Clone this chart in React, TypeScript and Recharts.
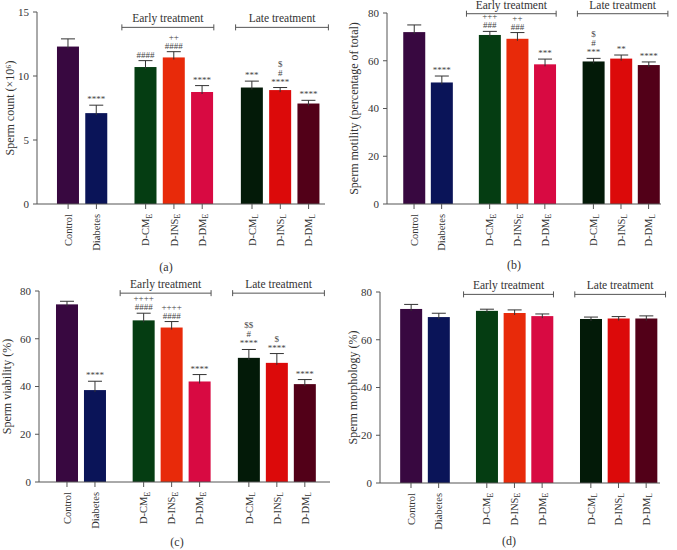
import React from 'react'
import { BarChart, Bar, XAxis, YAxis, Cell, ReferenceLine } from 'recharts'

// groups in plotting order; subscript after "_"
const groups = ['Control', 'Diabetes', 'D-CM_E', 'D-INS_E', 'D-DM_E', 'D-CM_L', 'D-INS_L', 'D-DM_L']
const positions = [0, 1, 2.74, 3.74, 4.74, 6.5, 7.5, 8.5]
const colors = ['#380840', '#0a1458', '#053d12', '#e82a0a', '#d80a42', '#031a08', '#dc0a0a', '#520018']

const countMean = [12.3, 7.1, 10.7, 11.45, 8.75, 9.1, 8.9, 7.85]
const countErr = [0.6, 0.62, 0.5, 0.45, 0.5, 0.5, 0.2, 0.25]
const countMarks = ['', '****', '####', '++|####', '****', '***', '$|#|****', '****']

const motilityMean = [72.0, 50.9, 70.8, 69.2, 58.5, 59.7, 60.9, 58.2]
const motilityErr = [3.0, 2.7, 1.5, 2.6, 2.2, 1.3, 1.5, 1.3]
const motilityMarks = ['', '****', '+++|###', '++|###', '***', '$|#|***', '**', '****']

const viabilityMean = [74.4, 38.5, 67.7, 64.7, 42.1, 52.0, 49.9, 41.0]
const viabilityErr = [1.3, 3.7, 3.0, 2.5, 2.9, 3.5, 3.9, 1.9]
const viabilityMarks = ['', '****', '++++|####', '++++|####', '****', '$$|#|****', '$|****', '****']

const morphologyMean = [72.9, 69.5, 72.1, 71.2, 69.9, 68.7, 68.9, 68.9]
const morphologyErr = [1.9, 1.6, 0.7, 1.3, 0.9, 0.8, 0.8, 1.1]
const morphologyMarks = ['', '', '', '', '', '', '', '']

const brackets = [
   { name: 'Early treatment', from: 1.9, to: 5.15 },
   { name: 'Late treatment', from: 5.92, to: 9.2 },
]

const FONT = '"Liberation Serif", "DejaVu Serif", serif'
const AXIS = '#555'

const panels = [
   {
      mean: countMean, err: countErr, marks: countMarks, yMax: 15, yTicks: [0, 5, 10, 15],
      label: 'Sperm count (×10⁶)', left: 0, top: 0, yw: 37, mt: 12, xh: 71, mr: 13,
      domain: [-1.1, 9.08], bracketY: 13.8, labelOffset: 10, caption: '(a)', capX: 166, capY: 267,
   },
   {
      mean: motilityMean, err: motilityErr, marks: motilityMarks, yMax: 80, yTicks: [0, 20, 40, 60, 80],
      label: 'Sperm motility (percentage of total)', left: 338, top: 0, yw: 49, mt: 13, xh: 71, mr: 15,
      domain: [-0.98, 8.95], bracketY: 79.7, labelOffset: 16, caption: '(b)', capX: 514, capY: 265,
   },
   {
      mean: viabilityMean, err: viabilityErr, marks: viabilityMarks, yMax: 80, yTicks: [0, 20, 40, 60, 80],
      label: 'Sperm viability (%)', left: 0, top: 275, yw: 39, mt: 16, xh: 68, mr: 8,
      domain: [-1.0, 9.4], bracketY: 79.1, labelOffset: 7, caption: '(c)', capX: 177, capY: 542,
   },
   {
      mean: morphologyMean, err: morphologyErr, marks: morphologyMarks, yMax: 80, yTicks: [0, 20, 40, 60, 80],
      label: 'Sperm morphology (%)', left: 338, top: 275, yw: 42, mt: 17, xh: 67, mr: 16,
      domain: [-1.12, 9.0], bracketY: 79, labelOffset: 15, caption: '(d)', capX: 509, capY: 541,
   },
]

const GroupTick = (props: any) => {
   const { x, y, payload } = props
   const i = positions.indexOf(payload.value)
   const name = groups[i] || ''
   const [main, sub] = name.split('_')
   return (
      <g transform={`translate(${x},${y})`}>
         <text transform='rotate(-90)' x={-3} y={0} dy='0.35em' textAnchor='end' fontSize={10.5} fill='#333' fontFamily={FONT}>
            {main}
            {sub && (
               <tspan dy='0.3em' fontSize={7.5}>
                  {sub}
               </tspan>
            )}
         </text>
      </g>
   )
}

const BarWithError = (props: any) => {
   const { x, y, width, height, index, payload } = props
   const perUnit = height / payload.mean
   const topY = y - payload.err * perUnit
   const cx = x + width / 2
   const lines = payload.marks ? payload.marks.split('|').reverse() : []
   return (
      <g>
         <rect x={x} y={y} width={width} height={height} fill={colors[index]} />
         <line x1={cx} y1={y + 2} x2={cx} y2={topY} stroke='#333' strokeWidth={1} />
         <line x1={cx - 7} y1={topY} x2={cx + 7} y2={topY} stroke='#333' strokeWidth={1} />
         {lines.map((t: string, k: number) => (
            <text key={k} x={cx} y={topY - 3 - k * 9} textAnchor='middle' fontSize={9} fill='#444' fontFamily={FONT}>
               {t}
            </text>
         ))}
      </g>
   )
}

const bracketShape = (name: string) => (props: any) => {
   const { x1, y1, x2 } = props
   return (
      <g>
         <line x1={x1} y1={y1} x2={x2} y2={y1} stroke={AXIS} strokeWidth={1} />
         <line x1={x1} y1={y1 - 3} x2={x1} y2={y1 + 3} stroke={AXIS} strokeWidth={1} />
         <line x1={x2} y1={y1 - 3} x2={x2} y2={y1 + 3} stroke={AXIS} strokeWidth={1} />
         <text x={(x1 + x2) / 2} y={y1 - 5} textAnchor='middle' fontSize={11.5} fill='#333' fontFamily={FONT}>
            {name}
         </text>
      </g>
   )
}

const Panel = ({ p }: { p: any }) => {
   const data = groups.map((g, i) => ({
      name: g,
      pos: positions[i],
      mean: p.mean[i],
      err: p.err[i],
      marks: p.marks[i],
   }))
   return (
      <div style={{ position: 'absolute', left: p.left, top: p.top }}>
         <BarChart width={338} height={275} data={data} margin={{ top: p.mt, right: p.mr, left: 0, bottom: 0 }}>
            <XAxis
               dataKey='pos'
               type='number'
               domain={p.domain}
               ticks={positions}
               interval={0}
               height={p.xh}
               tick={<GroupTick />}
               tickSize={5}
               tickMargin={2}
               stroke={AXIS}
               allowDataOverflow
            />
            <YAxis
               domain={[0, p.yMax]}
               ticks={p.yTicks}
               width={p.yw}
               tickSize={4}
               tickMargin={4}
               stroke={AXIS}
               tick={{ fontSize: 11, fill: '#333', fontFamily: FONT }}
               label={{
                  value: p.label,
                  angle: -90,
                  position: 'insideLeft',
                  offset: p.labelOffset,
                  style: { textAnchor: 'middle', fontSize: 12, fill: '#333', fontFamily: FONT },
               }}
            />
            <Bar dataKey='mean' barSize={22} isAnimationActive={false} shape={<BarWithError />}>
               {data.map((d, i) => (
                  <Cell key={d.name} fill={colors[i]} />
               ))}
            </Bar>
            {brackets.map(b => (
               <ReferenceLine
                  key={b.name}
                  segment={[
                     { x: b.from, y: p.bracketY },
                     { x: b.to, y: p.bracketY },
                  ]}
                  ifOverflow='visible'
                  shape={bracketShape(b.name)}
               />
            ))}
         </BarChart>
         <div
            style={{
               position: 'absolute',
               left: p.capX - p.left - 20,
               top: p.capY - p.top - 7,
               width: 40,
               textAlign: 'center',
               fontFamily: FONT,
               fontSize: 12,
               color: '#333',
               lineHeight: '14px',
            }}
         >
            {p.caption}
         </div>
      </div>
   )
}

export default function App() {
   return (
      <div style={{ position: 'absolute', left: 0, top: 0, width: 677, height: 550, background: '#fff' }}>
         {panels.map(p => (
            <Panel key={p.caption} p={p} />
         ))}
      </div>
   )
}
